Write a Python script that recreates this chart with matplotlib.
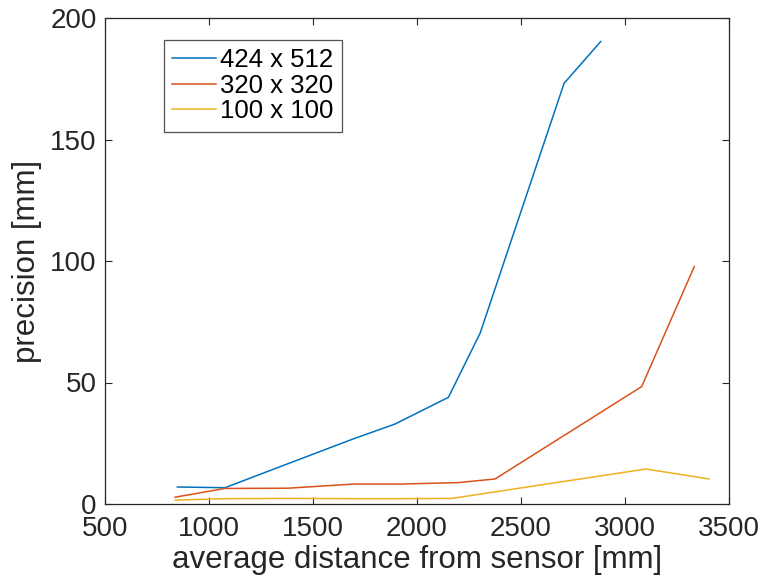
import matplotlib
matplotlib.use("Agg")
import matplotlib.pyplot as plt

plt.rcParams['font.family'] = ['Liberation Sans', 'DejaVu Sans']

# Data
x_424 = [848, 1077, 1380, 1694, 1894, 2151, 2303, 2707, 2883]
y_424 = [7.0, 6.7, 16.6, 26.8, 32.9, 43.9, 70.2, 173.1, 190.3]

x_320 = [837, 1077, 1379, 1694, 1918, 2199, 2375, 3080, 3333]
y_320 = [2.8, 6.4, 6.5, 8.2, 8.2, 8.8, 10.3, 48.3, 97.7]

x_100 = [837, 1077, 1379, 1694, 1918, 2167, 3101, 3404]
y_100 = [1.6, 2.2, 2.3, 2.2, 2.2, 2.3, 14.4, 10.3]

labels = ['424 x 512', '320 x 320', '100 x 100']
colors = ['#0072BD', '#D95319', '#EDB120']

xticks = [500, 1000, 1500, 2000, 2500, 3000, 3500]
yticks = [0, 50, 100, 150, 200]

fig = plt.figure(figsize=(7.62, 5.76), dpi=100)
ax = fig.add_axes([105/762, 1-504/576, 624/762, 486/576])

ax.plot(x_424, y_424, color=colors[0], lw=1.1, label=labels[0])
ax.plot(x_320, y_320, color=colors[1], lw=1.1, label=labels[1])
ax.plot(x_100, y_100, color=colors[2], lw=1.1, label=labels[2])

ax.set_xlim(500, 3500)
ax.set_ylim(0, 200)
ax.set_xticks(xticks)
ax.set_yticks(yticks)

axis_col = '#262626'
for s in ax.spines.values():
    s.set_color(axis_col)
    s.set_linewidth(0.9)
ax.tick_params(direction='in', length=5, width=0.8, colors=axis_col,
               top=True, right=True, labelsize=20)
ax.tick_params(axis='x', pad=9)
ax.tick_params(axis='y', pad=6)
for lab in ax.get_xticklabels() + ax.get_yticklabels():
    lab.set_color(axis_col)

ax.set_xlabel('average distance from sensor [mm]', fontsize=22.5, color=axis_col, labelpad=2)
ax.set_ylabel('precision [mm]', fontsize=22.5, color=axis_col, labelpad=6)

leg = ax.legend(loc='upper left', bbox_to_anchor=((164-105)/624, (504-40)/486),
                borderaxespad=0, fontsize=18.5, frameon=True, fancybox=False,
                handlelength=1.7, handletextpad=0.15, labelspacing=0.05,
                borderpad=0.33, edgecolor=axis_col)
leg.get_frame().set_linewidth(0.9)
for t in leg.get_texts():
    t.set_color('#000000')

fig.savefig('out.png', dpi=100)
